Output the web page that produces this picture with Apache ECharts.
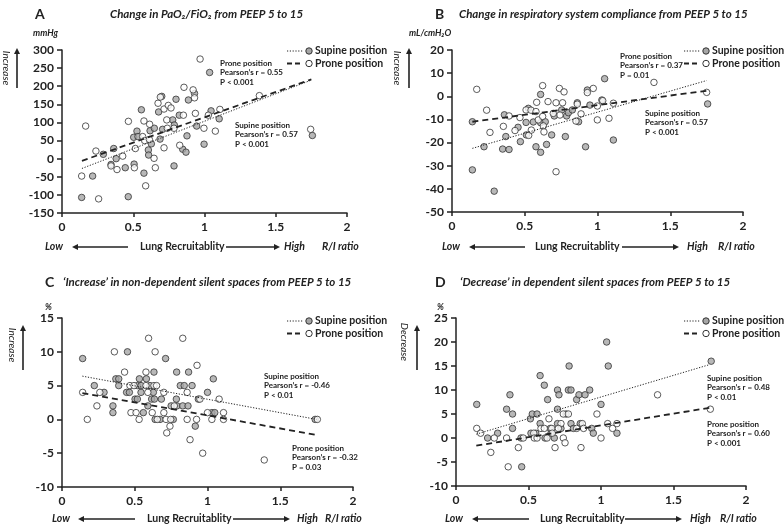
<!DOCTYPE html>
<html>
<head>
<meta charset="utf-8">
<script src="https://cdn.jsdelivr.net/npm/echarts@6/dist/echarts.min.js"></script>
<style>
  html, body { margin: 0; background: #fff; }
  #chart { width: 784px; height: 525px; }
</style>
</head>
<body>
<div id="chart"></div>
<script>
// R/I ratio axis, shared by all panels
const xTicks = [0, 0.5, 1, 1.5, 2]

// A: change in PaO2/FiO2 (mmHg)
const supineA = [[0.138,-107],[0.215,-48],[0.29,12],[0.344,-16],[0.363,28],[0.38,0],[0.444,-25],[0.465,-105],[0.503,59],[0.506,-15],[0.526,76],[0.533,61],[0.557,135],[0.575,-40],[0.606,24],[0.608,10],[0.618,77],[0.627,41],[0.648,84],[0.678,129],[0.688,54],[0.70,172],[0.706,81],[0.777,107],[0.786,-20],[0.788,93],[0.80,164],[0.823,120],[0.847,26],[0.87,18],[0.877,63],[0.887,162],[0.93,180],[0.945,90],[0.997,40],[1.036,238],[1.046,132],[1.103,110],[1.757,64]]
const proneA = [[0.138,-48],[0.166,90],[0.238,21],[0.257,-111],[0.344,-20],[0.386,-30],[0.426,7],[0.466,103],[0.508,-25],[0.515,28],[0.566,61],[0.575,104],[0.58,50],[0.587,-75],[0.613,53],[0.615,95],[0.646,1],[0.655,-25],[0.674,153],[0.69,170],[0.716,137],[0.716,30],[0.735,107],[0.739,84],[0.746,147],[0.765,140],[0.786,84],[0.826,37],[0.852,120],[0.856,197],[0.92,190],[0.93,168],[0.936,125],[0.969,275],[0.996,84],[1.027,120],[1.076,76],[1.108,136],[1.385,174],[1.745,81]]
const fitSupineA = [[0.14,-27],[1.75,217]]
const fitProneA = [[0.14,-6],[1.75,219]]

// B: change in respiratory system compliance (mL/cmH2O)
const supineB = [[0.14,-11],[0.14,-31.8],[0.29,-41],[0.22,-21.8],[0.36,-8],[0.37,-17.4],[0.348,-22.8],[0.392,-23],[0.454,-13.4],[0.47,-19.6],[0.525,-5.2],[0.509,-11.3],[0.511,-16.7],[0.577,-21.8],[0.609,-24.2],[0.559,-11.1],[0.609,-11.4],[0.609,0.8],[0.641,-11],[0.65,-20.8],[0.685,-16.7],[0.703,-8.5],[0.754,-5.9],[0.779,-17.4],[0.788,-8.5],[0.80,-7.1],[0.827,-5.9],[0.861,-2.8],[0.87,-11],[0.918,-21.8],[0.93,2.7],[0.948,-3.8],[1.03,-1.6],[1.049,7.6],[1.109,-18.9],[1.757,-3.3]]
const proneB = [[0.17,3],[0.238,-6],[0.261,-15.6],[0.353,-13],[0.392,-8.5],[0.433,-14.8],[0.467,-9.2],[0.509,-5.9],[0.543,-6],[0.527,-16.9],[0.545,-14.6],[0.577,-6.6],[0.593,-10.2],[0.623,4.6],[0.582,-2.6],[0.623,-8.7],[0.628,-12.8],[0.632,-15.4],[0.66,-2.3],[0.696,-7.4],[0.715,-2.8],[0.715,-32.6],[0.738,3.4],[0.77,1.9],[0.742,-8.1],[0.76,-2.8],[0.861,-3.4],[0.852,-10.7],[0.887,-7.6],[0.93,1.6],[0.971,3.4],[0.999,-10.2],[0.999,-4.2],[1.036,-1.9],[1.079,-9.5],[1.109,-3],[1.388,6],[1.75,1.7]]
const fitSupineB = [[0.14,-22.5],[1.75,6.8]]
const fitProneB = [[0.14,-11],[1.75,2.4]]

// C: increase in non-dependent silent spaces (%)
const supineC = [[0.142,9],[0.222,5],[0.289,4],[0.35,2],[0.35,1],[0.45,10],[0.37,6],[0.39,6],[0.39,5],[0.444,4],[0.463,4],[0.518,5],[0.543,5],[0.605,5],[0.502,3],[0.518,3],[0.532,6],[0.58,6],[0.543,4],[0.628,4],[0.632,7],[0.712,9],[0.59,2],[0.616,3],[0.635,3],[0.559,1],[0.64,0],[0.674,0],[0.683,3],[0.75,2],[0.79,2],[0.765,0],[0.786,3],[0.788,7],[0.87,7],[0.813,5],[0.84,5],[0.894,5],[0.83,2],[0.866,2],[0.916,-1],[0.937,3],[1.0,4],[1.03,1],[1.04,6],[1.05,1],[1.74,0]]
const proneC = [[0.142,4],[0.174,0],[0.24,2],[0.26,4],[0.36,10],[0.43,7],[0.467,5],[0.495,5],[0.577,5],[0.632,5],[0.65,5],[0.474,1],[0.509,1],[0.53,0],[0.59,4],[0.577,7],[0.595,12],[0.64,10],[0.83,12],[0.62,1],[0.655,0],[0.70,4],[0.70,1],[0.715,0],[0.772,2],[0.747,0],[0.742,-1],[0.72,-2],[0.86,4],[0.86,0],[0.88,-3],[0.925,0],[0.928,8],[0.948,3],[0.967,-5],[1.0,1],[1.03,0],[1.08,3],[1.11,1],[1.11,0],[1.39,-6],[1.755,0]]
const fitSupineC = [[0.14,6.4],[1.75,0]]
const fitProneC = [[0.14,3.9],[1.75,-2.3]]

// D: decrease in dependent silent spaces (%)
const supineD = [[0.143,7],[0.218,0],[0.287,1],[0.349,6],[0.372,9],[0.39,5],[0.39,2],[0.448,0],[0.453,-6],[0.513,4],[0.517,1],[0.526,5],[0.559,5],[0.55,1],[0.58,13],[0.609,11],[0.58,3],[0.614,0],[0.632,8],[0.65,2],[0.655,1],[0.678,0],[0.70,10],[0.70,6],[0.71,9],[0.70,3],[0.724,2],[0.759,5],[0.775,10],[0.793,10],[0.78,15],[0.793,3],[0.81,2],[0.832,8],[0.848,9],[0.89,9],[0.857,3],[0.922,10],[0.936,2],[0.947,1],[1.0,7],[1.039,20],[1.05,15],[1.11,1],[1.76,16]]
const proneD = [[0.143,2],[0.17,1],[0.24,-3],[0.264,0],[0.349,0],[0.36,-6],[0.43,-2],[0.464,0],[0.536,1],[0.54,0],[0.559,0],[0.586,2],[0.609,2],[0.628,0],[0.641,4],[0.66,2],[0.664,1],[0.683,-2],[0.724,3],[0.706,2],[0.74,0],[0.752,-1],[0.74,5],[0.775,5],[0.832,2],[0.871,3],[0.862,-2],[0.88,2],[0.972,5],[1.0,0],[1.046,3],[1.08,2],[1.11,3],[1.39,9],[1.754,6]]
const fitSupineD = [[0.14,0.8],[1.75,15.3]]
const fitProneD = [[0.14,-1.6],[1.75,6.3]]

const titles = ['Change in PaO\u2082/FiO\u2082 from PEEP 5 to 15', 'Change in respiratory system compliance from PEEP 5 to 15',
  '\u2018Increase\u2019 in non-dependent silent spaces from PEEP 5 to 15', '\u2018Decrease\u2019 in dependent silent spaces from PEEP 5 to 15']
const letters = ['A', 'B', 'C', 'D']
const units = ['mmHg', 'mL/cmH\u2082O', '%', '%']
const sideLabels = ['Increase', 'Increase', 'Increase', 'Decrease']
const statsSupine = [['Pearson\u2019s r = 0.57', 'P < 0.001'], ['Pearson\u2019s r = 0.57', 'P < 0.001'], ['Pearson\u2019s r = -0.46', 'P < 0.01'], ['Pearson\u2019s r = 0.48', 'P < 0.01']]
const statsProne = [['Pearson\u2019s r = 0.55', 'P < 0.001'], ['Pearson\u2019s r = 0.37', 'P = 0.01'], ['Pearson\u2019s r = -0.32', 'P = 0.03'], ['Pearson\u2019s r = 0.60', 'P < 0.001']]

const panels = [
  { grid: { left: 62, top: 50, width: 285, height: 163 }, yMin: -150, yMax: 300, yStep: 50,
    supine: supineA, prone: proneA, fitS: fitSupineA, fitP: fitProneA,
    head: { letterX: 35, titleX: 110, y: 14, unitX: 33, unitY: 33 }, side: { tx: 6, ax: 17, y1: 88, y2: 48, ty: 68 },
    foot: { y: 247, low: 45, a1: [128, 72], lung: 140, a2: [226, 280], high: 284, ri: 322 },
    legend: { x: 287, y: 51 }, proneTxt: { x: 220, y: 63 }, supineTxt: { x: 235, y: 125 } },
  { grid: { left: 452, top: 50, width: 291, height: 162 }, yMin: -50, yMax: 20, yStep: 10,
    supine: supineB, prone: proneB, fitS: fitSupineB, fitP: fitProneB,
    head: { letterX: 435, titleX: 459, y: 14, unitX: 409, unitY: 33 }, side: { tx: 397, ax: 409, y1: 88, y2: 48, ty: 68 },
    foot: { y: 247, low: 442, a1: [525, 469], lung: 535, a2: [622, 679], high: 687, ri: 718 },
    legend: { x: 684, y: 51 }, proneTxt: { x: 620, y: 56 }, supineTxt: { x: 645, y: 113 } },
  { grid: { left: 62, top: 318, width: 291, height: 169 }, yMin: -10, yMax: 15, yStep: 5,
    supine: supineC, prone: proneC, fitS: fitSupineC, fitP: fitProneC,
    head: { letterX: 45, titleX: 63, y: 282, unitX: 45, unitY: 307 }, side: { tx: 12, ax: 23, y1: 370, y2: 325, ty: 345 },
    foot: { y: 519, low: 52, a1: [135, 78], lung: 147, a2: [233, 290], high: 297, ri: 325 },
    legend: { x: 287, y: 321 }, supineTxt: { x: 264, y: 376 }, proneTxt: { x: 292, y: 448 } },
  { grid: { left: 456, top: 318, width: 290, height: 168 }, yMin: -10, yMax: 25, yStep: 5,
    supine: supineD, prone: proneD, fitS: fitSupineD, fitP: fitProneD,
    head: { letterX: 435, titleX: 460, y: 282, unitX: 437, unitY: 307 }, side: { tx: 404, ax: 417, y1: 370, y2: 325, ty: 342 },
    foot: { y: 519, low: 445, a1: [529, 472], lung: 540, a2: [625, 682], high: 690, ri: 720 },
    legend: { x: 684, y: 321 }, supineTxt: { x: 707, y: 378 }, proneTxt: { x: 707, y: 424 } }
]

const INK = '#222'
const FONT = 'Lato, "Open Sans", sans-serif'

const txt = (x, y, text, size, opts = {}) => ({
  type: 'text', x, y, rotation: opts.rotation || 0, silent: true,
  style: {
    text, fill: INK, fontSize: size, fontFamily: FONT,
    fontWeight: opts.weight || 'bold', fontStyle: opts.italic ? 'italic' : 'normal',
    align: opts.align || 'left', textAlign: opts.align || 'left',
    verticalAlign: 'middle', textVerticalAlign: 'middle'
  }
})

// head of the arrow is at (x2, y2)
const arrow = (x1, y1, x2, y2) => {
  const ang = Math.atan2(y2 - y1, x2 - x1), L = 6, W = 3
  const bx = x2 - L * Math.cos(ang), by = y2 - L * Math.sin(ang)
  const px = -Math.sin(ang) * W, py = Math.cos(ang) * W
  return [
    { type: 'line', silent: true, shape: { x1, y1, x2: bx, y2: by }, style: { stroke: INK, lineWidth: 1.6 } },
    { type: 'polygon', silent: true, shape: { points: [[x2, y2], [bx + px, by + py], [bx - px, by - py]] }, style: { fill: INK } }
  ]
}

const graphics = []
panels.forEach((p, i) => {
  const h = p.head
  graphics.push(txt(h.letterX, h.y, letters[i], 14, { weight: 'bold' }))
  graphics.push(txt(h.titleX, h.y, titles[i], 11.5, { italic: true }))
  graphics.push(txt(h.unitX, h.unitY, units[i], 9, { italic: true }))

  const s = p.side
  graphics.push(txt(s.tx, s.ty, sideLabels[i], 10, { italic: true, weight: 'normal', align: 'center', rotation: -Math.PI / 2 }))
  graphics.push(...arrow(s.ax, s.y1, s.ax, s.y2))

  const f = p.foot
  graphics.push(txt(f.low, f.y, 'Low', 10.5, { italic: true }))
  graphics.push(...arrow(f.a1[0], f.y, f.a1[1], f.y))
  graphics.push(txt(f.lung, f.y, 'Lung Recruitablity', 10.5))
  graphics.push(...arrow(f.a2[0], f.y, f.a2[1], f.y))
  graphics.push(txt(f.high, f.y, 'High', 10.5, { italic: true }))
  graphics.push(txt(f.ri, f.y, 'R/I ratio', 10.5, { italic: true }))

  const lg = p.legend
  ;[['Supine position', '#a6a6a6', [1.2, 1.6], 1], ['Prone position', '#fff', [5, 3], 1.8]].forEach((row, k) => {
    const y = lg.y + k * 12.5
    graphics.push({ type: 'line', silent: true, shape: { x1: lg.x, y1: y, x2: lg.x + 16, y2: y }, style: { stroke: INK, lineWidth: row[3], lineDash: row[2] } })
    graphics.push({ type: 'circle', silent: true, shape: { cx: lg.x + 22, cy: y, r: 3.2 }, style: { fill: row[1], stroke: '#333', lineWidth: 1 } })
    graphics.push(txt(lg.x + 28, y, row[0], 10.5))
  })

  ;[[p.supineTxt, 'Supine position', statsSupine[i]], [p.proneTxt, 'Prone position', statsProne[i]]].forEach(([pos, name, st]) => {
    graphics.push(txt(pos.x, pos.y, name, 8))
    graphics.push(txt(pos.x, pos.y + 9.5, st[0], 8))
    graphics.push(txt(pos.x, pos.y + 19, st[1], 8))
  })
})

const axisText = { color: INK, fontSize: 12, fontWeight: 'bold', fontFamily: FONT }

const option = {
  animation: false,
  backgroundColor: '#fff',
  grid: panels.map(p => ({ ...p.grid })),
  xAxis: panels.map((p, i) => ({
    gridIndex: i, type: 'value', min: xTicks[0], max: xTicks[xTicks.length - 1], interval: 0.5,
    axisLine: { onZero: false, lineStyle: { color: INK, width: 1.5 } },
    axisTick: { show: true, length: 4, lineStyle: { color: INK, width: 1.5 } },
    axisLabel: { ...axisText, margin: 8 },
    splitLine: { show: false }
  })),
  yAxis: panels.map((p, i) => ({
    gridIndex: i, type: 'value', min: p.yMin, max: p.yMax, interval: p.yStep,
    axisLine: { show: true, onZero: false, lineStyle: { color: INK, width: 1.5 } },
    axisTick: { show: true, length: 5, lineStyle: { color: INK, width: 1.5 } },
    axisLabel: { ...axisText, margin: 8 },
    splitLine: { show: false }
  })),
  series: panels.flatMap((p, i) => [
    { type: 'scatter', xAxisIndex: i, yAxisIndex: i, data: p.supine, symbol: 'circle', symbolSize: 6.5,
      itemStyle: { color: '#a6a6a6', borderColor: '#333', borderWidth: 1 } },
    { type: 'scatter', xAxisIndex: i, yAxisIndex: i, data: p.prone, symbol: 'circle', symbolSize: 6.5,
      itemStyle: { color: '#fff', borderColor: '#333', borderWidth: 1 } },
    { type: 'line', xAxisIndex: i, yAxisIndex: i, data: p.fitS, showSymbol: false, z: 3,
      lineStyle: { color: INK, width: 1, type: [1.2, 1.6] } },
    { type: 'line', xAxisIndex: i, yAxisIndex: i, data: p.fitP, showSymbol: false, z: 3,
      lineStyle: { color: INK, width: 1.8, type: [6, 4] } }
  ]),
  graphic: graphics
}

const chart = echarts.init(document.getElementById('chart'))
chart.setOption(option)
window.addEventListener('resize', () => chart.resize())
</script>
</body>
</html>
